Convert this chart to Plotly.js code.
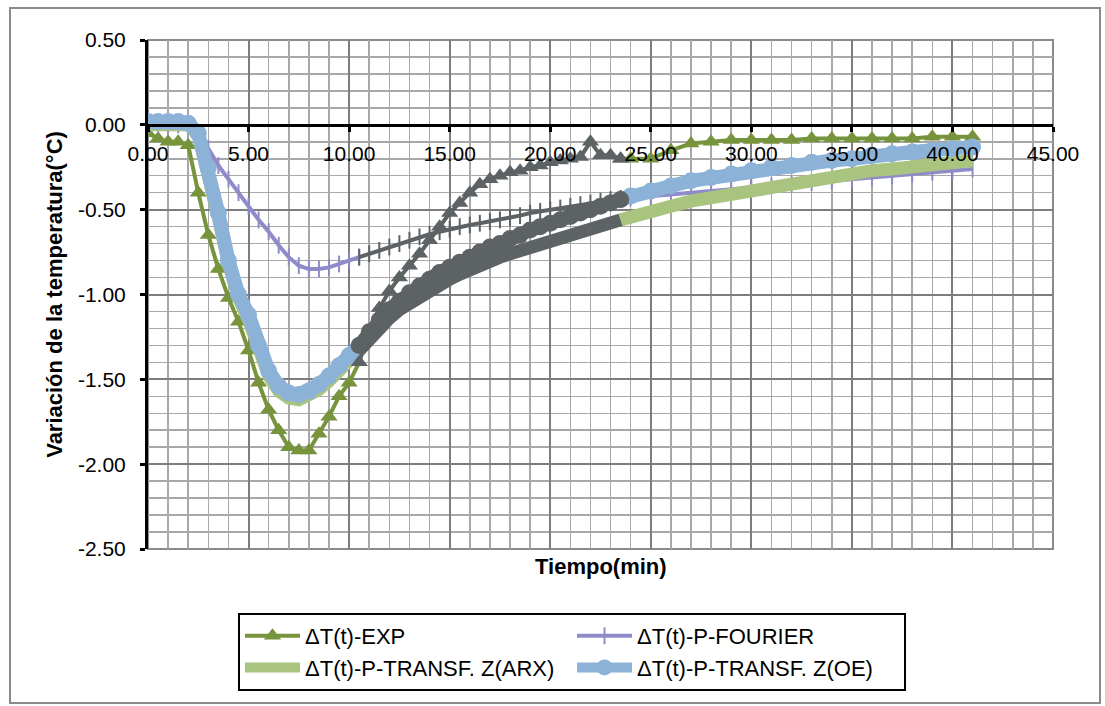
<!DOCTYPE html>
<html><head><meta charset="utf-8">
<script src="https://cdn.plot.ly/plotly-3.0.1.min.js"></script>
<style>html,body{margin:0;padding:0;background:#fff}#chart{width:1105px;height:706px}</style>
</head><body><div id="chart"></div><script>
// Time (min)
const TIME = [0,0.5,1,1.5,2,2.5,3,3.5,4,4.5,5,5.5,6,6.5,7,7.5,8,8.5,9,9.5,10,10.5,11,11.5,12,12.5,13,13.5,14,14.5,15,15.5,16,16.5,17,17.5,18,18.5,19,19.5,20,20.5,21,21.5,22,22.5,23,23.5,24,25,26,27,28,29,30,31,32,33,34,35,36,37,38,39,40,41];
// ΔT(t)-EXP
const EXP = [-0.05,-0.08,-0.1,-0.1,-0.12,-0.4,-0.65,-0.85,-1.02,-1.16,-1.33,-1.52,-1.68,-1.8,-1.9,-1.92,-1.92,-1.82,-1.72,-1.6,-1.52,-1.4,-1.22,-1.08,-0.98,-0.9,-0.83,-0.76,-0.68,-0.6,-0.52,-0.46,-0.4,-0.35,-0.32,-0.3,-0.28,-0.27,-0.25,-0.24,-0.22,-0.21,-0.2,-0.19,-0.1,-0.18,-0.18,-0.2,-0.2,-0.2,-0.15,-0.11,-0.1,-0.09,-0.09,-0.09,-0.09,-0.08,-0.08,-0.08,-0.08,-0.08,-0.08,-0.07,-0.07,-0.07];
// ΔT(t)-P-FOURIER
const FOURIER = [0,0,0,0,-0.01,-0.05,-0.14,-0.24,-0.32,-0.4,-0.48,-0.56,-0.63,-0.71,-0.78,-0.83,-0.85,-0.85,-0.84,-0.82,-0.8,-0.78,-0.76,-0.74,-0.72,-0.7,-0.68,-0.66,-0.645,-0.63,-0.615,-0.6,-0.59,-0.58,-0.57,-0.56,-0.55,-0.535,-0.52,-0.51,-0.5,-0.49,-0.48,-0.47,-0.46,-0.45,-0.44,-0.435,-0.43,-0.42,-0.41,-0.4,-0.39,-0.38,-0.37,-0.36,-0.35,-0.34,-0.33,-0.32,-0.31,-0.3,-0.29,-0.28,-0.27,-0.26];
// ΔT(t)-P-TRANSF. Z(ARX)
const ARX = [0,0,0,0,0,-0.06,-0.27,-0.55,-0.82,-1.02,-1.15,-1.33,-1.48,-1.57,-1.61,-1.62,-1.6,-1.56,-1.51,-1.45,-1.39,-1.33,-1.26,-1.2,-1.14,-1.09,-1.05,-1.01,-0.97,-0.94,-0.91,-0.88,-0.85,-0.83,-0.8,-0.78,-0.76,-0.74,-0.72,-0.7,-0.68,-0.66,-0.64,-0.62,-0.61,-0.59,-0.57,-0.56,-0.54,-0.51,-0.48,-0.45,-0.43,-0.4,-0.38,-0.36,-0.34,-0.32,-0.3,-0.29,-0.27,-0.26,-0.25,-0.23,-0.22,-0.21];
// ΔT(t)-P-TRANSF. Z(OE)
const OE = [0.02,0.02,0.02,0.02,0.01,-0.05,-0.25,-0.52,-0.8,-1.0,-1.12,-1.3,-1.45,-1.54,-1.58,-1.59,-1.57,-1.53,-1.48,-1.42,-1.36,-1.3,-1.22,-1.15,-1.09,-1.04,-0.99,-0.95,-0.91,-0.87,-0.84,-0.81,-0.78,-0.75,-0.72,-0.7,-0.67,-0.65,-0.62,-0.6,-0.58,-0.56,-0.54,-0.52,-0.5,-0.48,-0.46,-0.44,-0.42,-0.39,-0.36,-0.33,-0.31,-0.29,-0.27,-0.25,-0.24,-0.22,-0.21,-0.2,-0.18,-0.17,-0.16,-0.15,-0.14,-0.13];

const SERIES_NAMES = ['ΔT(t)-EXP','ΔT(t)-P-FOURIER','ΔT(t)-P-TRANSF. Z(ARX)','ΔT(t)-P-TRANSF. Z(OE)'];
const X_TICK_VALUES = [0,5,10,15,20,25,30,35,40,45];
const X_TICK_LABELS = ['0.00','5.00','10.00','15.00','20.00','25.00','30.00','35.00','40.00','45.00'];
const Y_TICK_VALUES = [0.5,0,-0.5,-1,-1.5,-2,-2.5];
const Y_TICK_LABELS = ['0.50','0.00','-0.50','-1.00','-1.50','-2.00','-2.50'];
// time window where the scanned figure shows all curves in dark grey
const SCAN_GREY_RANGE = [10.5, 23.5];

const GREY = '#5d6264';
const styles = [
  {mode:'lines+markers', line:{color:'#77933c', width:4}, marker:{symbol:'triangle-up', size:15, color:'#77933c'}},
  {mode:'lines+markers', line:{color:'#8f8bc8', width:4}, marker:{symbol:'line-ns', size:12, color:'#8f8bc8', line:{color:'#8f8bc8', width:2}}},
  {mode:'lines', line:{color:'#a9c47f', width:13}},
  {mode:'lines+markers', line:{color:'#8cb2d8', width:14}, marker:{symbol:'circle', size:17, color:'#8cb2d8'}}
];
const SERIES = [EXP, FOURIER, ARX, OE];

function inGrey(t){ return t > SCAN_GREY_RANGE[0] && t < SCAN_GREY_RANGE[1]; }
function inGreyClosed(t){ return t >= SCAN_GREY_RANGE[0] && t <= SCAN_GREY_RANGE[1]; }

const traces = [];
SERIES.forEach((ys, k) => {
  const s = styles[k];
  traces.push(Object.assign({
    type:'scatter', name:SERIES_NAMES[k], x:TIME, y:ys.map((v,i)=> inGrey(TIME[i]) ? null : v),
    connectgaps:false, hoverinfo:'x+y'
  }, JSON.parse(JSON.stringify(s))));
});
SERIES.forEach((ys, k) => {
  const s = JSON.parse(JSON.stringify(styles[k]));
  s.line.color = GREY;
  if (s.marker) { s.marker.color = GREY; if (s.marker.line) s.marker.line.color = GREY; }
  const xs = [], yy = [];
  TIME.forEach((t,i)=>{ if (inGreyClosed(t)) { xs.push(t); yy.push(ys[i]); } });
  traces.push(Object.assign({type:'scatter', x:xs, y:yy, showlegend:false, hoverinfo:'skip'}, s));
});

const PL = 148, PR = 1053, PT = 40, PB = 549;
const px = v => (v - PL) / (PR - PL);
const py = v => (PB - v) / (PB - PT);

const layout = {
  width:1105, height:706,
  margin:{l:PL, r:1105-PR, t:PT, b:706-PB},
  paper_bgcolor:'#ffffff', plot_bgcolor:'#ffffff',
  font:{family:'"Liberation Sans", Arial, sans-serif', color:'#000', size:21},
  showlegend:true,
  xaxis:{
    range:[0,45], tickmode:'array', tickvals:X_TICK_VALUES, ticktext:X_TICK_LABELS,
    anchor:'free', position:(0-(-2.5))/3,
    showline:true, linecolor:'#000', linewidth:3,
    ticks:'outside', ticklen:5, tickwidth:3, tickcolor:'#000',
    showgrid:true, gridcolor:'#7d7d7d', gridwidth:2, zeroline:false,
    minor:{tickmode:'linear', tick0:0, dtick:1, showgrid:true, gridcolor:'#a8a8a8', gridwidth:1.5, ticks:''},
    tickfont:{size:21, color:'#000'}, ticklabelstandoff:4, fixedrange:true
  },
  yaxis:{
    range:[-2.5,0.5], tickmode:'array', tickvals:Y_TICK_VALUES, ticktext:Y_TICK_LABELS,
    showline:true, linecolor:'#000', linewidth:3,
    ticks:'outside', ticklen:5, tickwidth:3, tickcolor:'#000',
    showgrid:true, gridcolor:'#7d7d7d', gridwidth:2, zeroline:false,
    minor:{tickmode:'linear', tick0:0, dtick:0.1, showgrid:true, gridcolor:'#a8a8a8', gridwidth:1.5, ticks:''},
    tickfont:{size:21, color:'#000'}, ticklabelstandoff:10,
    title:{text:'Variación de la temperatura(°C)', font:{size:22, weight:'bold', color:'#000'}, standoff:10},
    fixedrange:true
  },
  legend:{
    orientation:'h', x:px(238), y:py(613), xanchor:'left', yanchor:'top',
    bordercolor:'#000', borderwidth:2, bgcolor:'#fff',
    font:{size:22, color:'#000'}, entrywidth:262, entrywidthmode:'pixels', itemwidth:55
  },
  annotations:[{text:'Tiempo(min)', xref:'paper', yref:'paper', x:0.5, y:py(566), yanchor:'middle', xanchor:'center', showarrow:false, font:{size:22, weight:'bold', color:'#000'}}],
  shapes:[
    {type:'rect', xref:'paper', yref:'paper', x0:px(10), x1:px(1100), y0:py(703), y1:py(8), line:{color:'#8a8a8a', width:2}, layer:'below'},
    {type:'rect', xref:'paper', yref:'paper', x0:0, x1:1, y0:0, y1:1, line:{color:'#8a8a8a', width:2}, layer:'below'}
  ]
};

Plotly.newPlot('chart', traces, layout, {displayModeBar:false, staticPlot:true});
</script></body></html>
